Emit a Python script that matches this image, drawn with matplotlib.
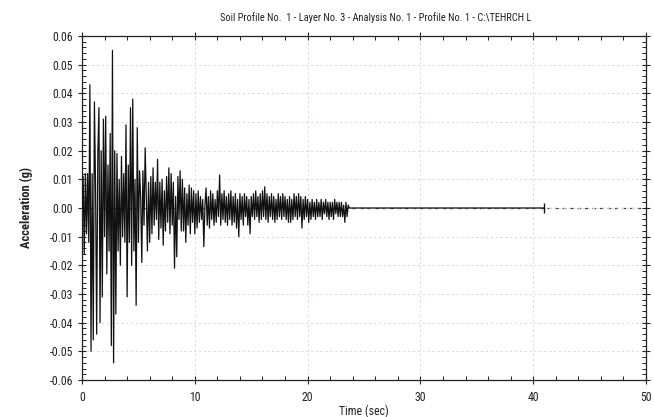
import numpy as np
import matplotlib
matplotlib.use("Agg")
import matplotlib.pyplot as plt
from matplotlib.ticker import MultipleLocator, FormatStrFormatter

# Acceleration time history (g), sampled every 0.1 s from t = 0
dt = 0.1
accel = [
    0.000, 0.011, -0.016, 0.012, -0.009, 0.012, -0.012, 0.043, -0.050, 0.012,
    -0.046, 0.037, 0.008, -0.044, 0.018, 0.035, -0.040, 0.020, -0.031, 0.031,
    -0.010, 0.032, -0.023, 0.015, -0.015, 0.026, -0.048, 0.055, -0.054, 0.020,
    -0.037, 0.019, -0.015, 0.010, -0.020, 0.018, -0.010, 0.012, -0.012, 0.029,
    -0.031, 0.015, -0.012, 0.035, -0.020, 0.038, -0.015, 0.010, -0.034, 0.028,
    -0.012, 0.013, 0.004, -0.019, 0.013, -0.006, 0.021, 0.004, -0.015, 0.009,
    -0.012, 0.011, -0.009, 0.014, -0.006, 0.009, -0.004, 0.017, -0.011, 0.009,
    -0.007, 0.010, -0.013, 0.006, -0.008, 0.011, -0.005, 0.014, -0.009, 0.012,
    -0.006, 0.009, -0.021, 0.004, -0.017, 0.011, -0.004, 0.013, -0.008, 0.010,
    -0.008, 0.007, -0.012, 0.005, -0.006, 0.008, -0.009, 0.007, -0.005, 0.006,
    -0.009, 0.005, -0.007, 0.006, -0.005, 0.004, -0.004, 0.003, -0.0135, 0.001,
    0.007, -0.006, 0.004, -0.007, 0.006, -0.004, 0.005, -0.006, 0.003, -0.005,
    0.006, -0.003, 0.0115, -0.006, 0.005, -0.004, 0.006, -0.005, 0.004, -0.006,
    0.005, -0.004, 0.006, -0.006, 0.004, -0.005, 0.005, -0.007, 0.003, -0.010,
    0.005, -0.004, 0.004, -0.006, 0.005, -0.003, 0.004, -0.006, 0.003, -0.009,
    0.004, -0.003, 0.005, -0.004, 0.006, -0.003, 0.004, -0.005, 0.005, -0.004,
    0.006, -0.003, 0.0074, -0.004, 0.005, -0.005, 0.004, -0.003, 0.005, -0.004,
    0.004, -0.005, 0.003, -0.004, 0.005, -0.003, 0.004, -0.004, 0.005, -0.003,
    0.004, -0.004, 0.003, -0.005, 0.004, -0.005, 0.003, -0.004, 0.005, -0.003,
    0.004, -0.004, 0.005, -0.003, 0.004, -0.007, 0.003, -0.004, 0.004, -0.003,
    0.003, -0.005, 0.002, -0.004, 0.003, -0.003, 0.002, -0.004, 0.003, -0.003,
    0.002, -0.003, 0.003, -0.004, 0.002, -0.002, 0.003, -0.003, 0.002, -0.004,
    0.002, -0.003, 0.002, -0.004, 0.003, -0.002, 0.002, -0.003, 0.002, -0.003,
    0.002, -0.003, 0.001, -0.005, 0.002, -0.003, 0.001, 0.000,
]
record_end = 40.96   # last time step of the record (s)

x_ticks = [0, 10, 20, 30, 40, 50]
y_ticks = [-0.06, -0.05, -0.04, -0.03, -0.02, -0.01, 0.00, 0.01, 0.02, 0.03, 0.04, 0.05, 0.06]

title = "Soil Profile No.  1 - Layer No. 3 - Analysis No. 1 - Profile No. 1 - C:\\TEHRCH L"
x_label = "Time (sec)"
y_label = "Acceleration (g)"

t = list(np.arange(len(accel)) * dt) + [record_end]
a = list(accel) + [0.0]

plt.rcParams['font.family'] = ['Roboto Condensed', 'Liberation Sans', 'DejaVu Sans']

fig = plt.figure(figsize=(6.54, 4.17), dpi=100)
ax = fig.add_axes([82 / 654, 1 - 380 / 417, 564 / 654, 344 / 417])

ax.plot(t, a, color='#111111', lw=0.9, marker='|', markevery=[len(t) - 1],
        markersize=7, markeredgewidth=1.0, zorder=3)

ax.set_xlim(0, 50)
ax.set_ylim(-0.06, 0.06)
ax.set_xticks(x_ticks)
ax.set_yticks(y_ticks)
ax.yaxis.set_major_formatter(FormatStrFormatter('%.2f'))
ax.xaxis.set_minor_locator(MultipleLocator(2))
ax.yaxis.set_minor_locator(MultipleLocator(0.002))

ax.grid(True, which='major', color='#ddd2d2', ls=(0, (2, 3)), lw=0.7, zorder=0)
ax.axhline(0, color='#444444', ls=(0, (3, 3)), lw=0.9, zorder=1)

ax.tick_params(which='major', direction='inout', length=6, width=0.8,
               top=True, right=True, labelsize=8.5, colors='#222222')
ax.tick_params(which='major', axis='x', pad=5)
ax.tick_params(which='minor', direction='in', length=3, width=0.7,
               top=True, right=True, colors='#222222')
for s in ax.spines.values():
    s.set_linewidth(0.9)
    s.set_color('#222222')

ax.set_xlabel(x_label, fontsize=8.5, labelpad=0, color='#222222')
ax.set_ylabel(y_label, fontsize=9, fontweight='bold', labelpad=12, color='#222222')
ax.set_title(title, fontsize=7.5, pad=11, x=0.52, color='#222222')

fig.savefig('out.png', dpi=100)
